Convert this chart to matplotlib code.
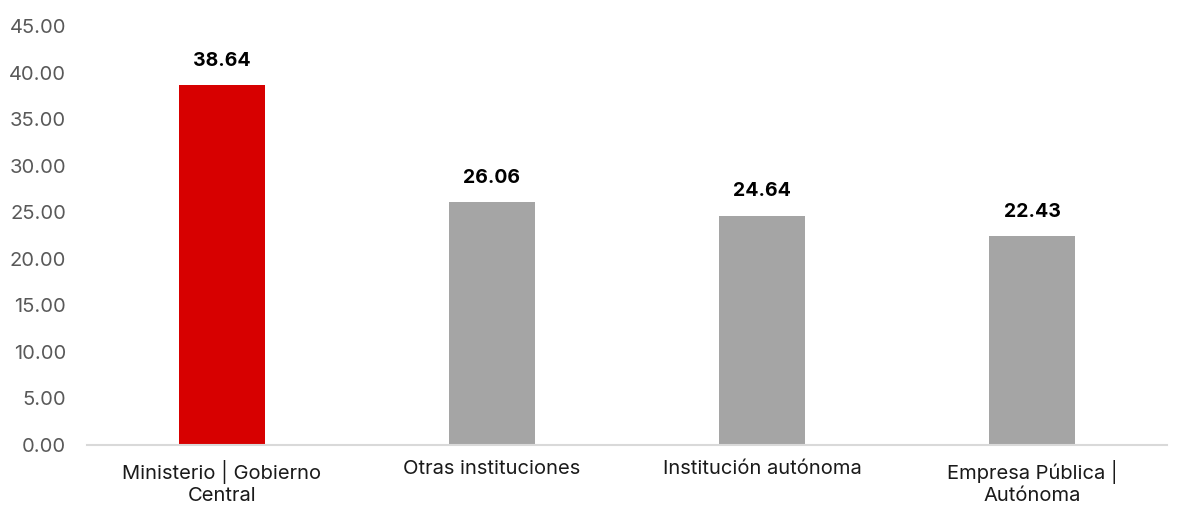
import matplotlib
matplotlib.use("Agg")
import matplotlib.pyplot as plt

categories = ["Ministerio | Gobierno\nCentral", "Otras instituciones",
              "Institución autónoma", "Empresa Pública |\nAutónoma"]
values = [38.64, 26.06, 24.64, 22.43]
colors = ["#d70000", "#a5a5a5", "#a5a5a5", "#a5a5a5"]
yticks = [0, 5, 10, 15, 20, 25, 30, 35, 40, 45]

plt.rcParams["font.family"] = ["Inter", "DejaVu Sans"]

fig = plt.figure(figsize=(11.84, 5.19), dpi=100)
ax = fig.add_axes([87 / 1184, 1 - 445 / 519, (1167 - 87) / 1184, (445 - 26) / 519])

x = range(len(categories))
bars = ax.bar(x, values, width=0.315, color=colors, zorder=2)

for rect, v in zip(bars, values):
    ax.annotate(f"{v:.2f}", (rect.get_x() + rect.get_width() / 2, v),
                xytext=(0, 11), textcoords="offset points",
                ha="center", va="bottom", fontsize=14, fontweight="bold",
                color="black")

ax.set_xlim(-0.5, len(categories) - 0.5)
ax.set_ylim(0, 45)
ax.set_yticks(yticks)
ax.set_yticklabels([f"{t:.2f}" for t in yticks], color="#595959", fontsize=14.5)
ax.set_xticks(list(x))
ax.set_xticklabels(categories, fontsize=14.5, color="#1a1a1a", linespacing=1.2)

for s in ["top", "right", "left"]:
    ax.spines[s].set_visible(False)
ax.spines["bottom"].set_color("#d9d9d9")
ax.spines["bottom"].set_linewidth(1.5)
ax.tick_params(axis="both", length=0)
ax.tick_params(axis="y", pad=15)
ax.tick_params(axis="x", pad=11)

fig.savefig("out.png", dpi=100, facecolor="white")
